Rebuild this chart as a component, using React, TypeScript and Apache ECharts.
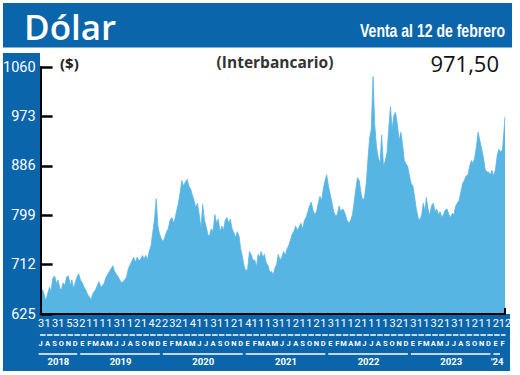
import React, { useEffect, useRef } from 'react';
import * as echarts from 'echarts';

// Monthly readings (approx. weekly points) starting July 2018
const v2018 = [
  [652, 668, 660, 648], [660, 672, 665, 688], [692, 678, 685, 670],
  [668, 680, 675, 690], [692, 675, 685, 670], [680, 690, 696, 685],
];
const v2019 = [
  [680, 672, 668, 660], [655, 650, 660, 665], [668, 675, 682, 672],
  [675, 680, 690, 695], [700, 705, 710, 700], [695, 690, 685, 680],
  [682, 686, 690, 705], [712, 718, 725, 716], [725, 718, 722, 728],
  [722, 728, 720, 735], [745, 770, 790, 828], [780, 765, 758, 752],
];
const v2020 = [
  [760, 770, 775, 790], [795, 785, 795, 810], [820, 840, 860, 850],
  [858, 862, 850, 845], [835, 825, 812, 820], [800, 775, 818, 790],
  [780, 765, 762, 775], [770, 800, 785, 792], [770, 780, 772, 790],
  [795, 785, 792, 775], [768, 760, 770, 762], [740, 725, 710, 700],
];
const v2021 = [
  [705, 735, 730, 720], [720, 708, 730, 725], [735, 725, 730, 715],
  [710, 698, 700, 694], [705, 712, 730, 720], [725, 735, 728, 740],
  [745, 755, 765, 770], [780, 772, 778, 785], [775, 790, 795, 805],
  [815, 822, 808, 800], [805, 820, 832, 825], [845, 860, 870, 850],
];
const v2022 = [
  [835, 820, 805, 798], [800, 815, 805, 810], [808, 800, 790, 785],
  [790, 800, 820, 845], [865, 860, 840, 825], [830, 855, 895, 935],
  [950, 1043, 960, 920], [900, 890, 940, 885], [895, 910, 950, 990],
  [950, 975, 980, 960], [930, 945, 925, 895], [890, 885, 870, 855],
];
const v2023 = [
  [850, 830, 810, 795], [790, 800, 820, 805], [830, 810, 798, 815],
  [820, 805, 810, 800], [805, 795, 800, 808], [810, 800, 795, 802],
  [800, 815, 820, 825], [840, 855, 860, 868], [870, 885, 895, 890],
  [900, 920, 945, 930], [915, 900, 880, 875], [875, 870, 878, 868],
];
const v2024 = [[880, 905, 915, 910], [915, 945, 971.5]];

const weekDays = [1, 9, 16, 24];
const lastMonthDays = [1, 7, 12];

// first labelled day of each month, Jul 2018 .. Feb 2024
const monthDayLabels = [
  3, 1, 3, 1, 5, 3,
  2, 1, 1, 1, 1, 3, 1, 1, 2, 1, 4, 2,
  2, 3, 2, 1, 4, 1, 1, 3, 1, 1, 2, 1,
  4, 1, 1, 1, 3, 1, 1, 2, 1, 1, 2, 1,
  3, 1, 1, 1, 2, 1, 1, 1, 1, 3, 2, 1,
  3, 1, 1, 3, 2, 1, 3, 1, 1, 2, 1, 1,
  2, 12,
];
const monthLetters = ['E', 'F', 'M', 'A', 'M', 'J', 'J', 'A', 'S', 'O', 'N', 'D'];
const yearLabels = ['2018', '2019', '2020', '2021', '2022', '2023', "'24"];
const yTicks = [625, 712, 799, 886, 973, 1060];

const BLUE = '#0b65ab';
const AREA = '#57b5e4';
const COND = "'Liberation Sans Narrow', 'Roboto', sans-serif";

function monthOf(i: number) {
  const t = 6 + i;
  return { y: 2018 + Math.floor(t / 12), m: t % 12 };
}
const ts = (y: number, m: number, d: number) => new Date(y, m, d).getTime();

const START = ts(2018, 6, 1);
const END = ts(2024, 1, 12);

const allMonths = [...v2018, ...v2019, ...v2020, ...v2021, ...v2022, ...v2023, ...v2024];
const seriesData: [number, number][] = [];
allMonths.forEach((vals, i) => {
  const { y, m } = monthOf(i);
  const days = vals.length === 4 ? weekDays : lastMonthDays;
  vals.forEach((v, k) => {
    seriesData.push([ts(y, m, days[k]), v]);
  });
});

const monthStarts = allMonths.map((_, i) => {
  const { y, m } = monthOf(i);
  return ts(y, m, 1);
});
const dayDates = monthDayLabels.map((d, i) => {
  const { y, m } = monthOf(i);
  return ts(y, m, d);
});

const yearBounds = [START, ts(2019, 0, 1), ts(2020, 0, 1), ts(2021, 0, 1), ts(2022, 0, 1), ts(2023, 0, 1), ts(2024, 0, 1), END];
const yearSpans = yearLabels.map((_, i) => [yearBounds[i], yearBounds[i + 1], 625]);

const hiddenValueX = () => ({
  type: 'value',
  gridIndex: 0,
  min: START,
  max: END,
  position: 'bottom',
  axisTick: { show: false },
  splitLine: { show: false },
});

export default function App() {
  const ref = useRef<HTMLDivElement>(null);
  useEffect(() => {
    const chart = echarts.init(ref.current!, null, { renderer: 'svg' });
    const option: any = {
      animation: false,
      grid: { left: 40, right: 15, top: 67, bottom: 61, containLabel: false },
      graphic: [
        { type: 'rect', z: -10, shape: { x: 3, y: 3, width: 509, height: 44.5 }, style: { fill: BLUE } },
        { type: 'rect', z: -10, shape: { x: 3, y: 53, width: 507, height: 318 }, style: { fill: BLUE } },
        { type: 'rect', z: -9, shape: { x: 40, y: 50, width: 472, height: 264 }, style: { fill: '#fff' } },
        {
          type: 'text', z: 10, x: 24, y: 26,
          style: { text: 'Dólar', fill: '#fff', fontFamily: "'Open Sans', sans-serif", fontWeight: 600, fontSize: 35, verticalAlign: 'middle' },
        },
        {
          type: 'text', z: 10, x: 505, y: 30, scaleX: 0.78,
          style: { text: 'Venta al 12 de febrero', fill: '#fff', fontFamily: "'Liberation Sans', sans-serif", fontWeight: 'bold', fontSize: 18, align: 'right', verticalAlign: 'middle' },
        },
        {
          type: 'text', z: 10, x: 60, y: 63,
          style: { text: '($)', fill: '#222', fontFamily: "'Open Sans', sans-serif", fontWeight: 'bold', fontSize: 15, verticalAlign: 'middle' },
        },
        {
          type: 'text', z: 10, x: 275, y: 62,
          style: { text: '(Interbancario)', fill: '#333', fontFamily: "'Open Sans', sans-serif", fontWeight: 'bold', fontSize: 15.5, align: 'center', verticalAlign: 'middle' },
        },
        {
          type: 'text', z: 10, x: 499, y: 63,
          style: { text: '971,50', fill: '#111', fontFamily: "'Open Sans', sans-serif", fontSize: 22, align: 'right', verticalAlign: 'middle' },
        },
      ],
      xAxis: [
        {
          type: 'value',
          min: START,
          max: END,
          z: 5,
          axisLine: { show: true, lineStyle: { color: '#000', width: 2 } },
          axisTick: { show: true, inside: true, length: 6, customValues: [END], lineStyle: { color: '#000', width: 2 } },
          axisLabel: { show: false },
          splitLine: { show: false },
        },
        {
          ...hiddenValueX(),
          offset: 0,
          axisLine: { show: false },
          axisLabel: {
            show: true,
            customValues: dayDates,
            formatter: (v: number) => String(new Date(v).getDate()),
            color: '#fff',
            fontFamily: COND,
            fontSize: 11,
            lineHeight: 11,
            margin: 4,
          },
        },
        {
          ...hiddenValueX(),
          offset: 21,
          axisLine: { show: true, lineStyle: { color: '#fff', width: 1.5, type: [4.5, 2.38] } },
          axisLabel: {
            show: true,
            customValues: monthStarts,
            formatter: (v: number) => monthLetters[new Date(v).getMonth()],
            margin: 4,
            color: '#fff',
            fontSize: 7.5,
            lineHeight: 9,
            fontFamily: COND,
            fontWeight: 'bold',
          },
        },
      ],
      yAxis: {
        type: 'value',
        min: 625,
        max: 1060,
        z: 5,
        axisLine: { show: true, lineStyle: { color: '#000', width: 2 } },
        axisTick: { show: true, inside: true, length: 12, customValues: yTicks, lineStyle: { color: '#000', width: 2.5 } },
        axisLabel: {
          show: true,
          customValues: yTicks,
          formatter: (v: number) => String(v),
          color: '#fff',
          fontFamily: COND,
          fontSize: 14.5,
          margin: 5,
        },
        splitLine: { show: false },
      },
      series: [
        {
          type: 'line',
          data: seriesData,
          xAxisIndex: 0,
          yAxisIndex: 0,
          showSymbol: false,
          symbol: 'none',
          lineStyle: { color: AREA, width: 0.8 },
          areaStyle: { color: AREA, opacity: 1 },
          z: 2,
        },
        {
          type: 'custom',
          xAxisIndex: 0,
          yAxisIndex: 0,
          clip: false,
          data: yearSpans,
          encode: { x: [0, 1], y: 2 },
          renderItem: (params: any, api: any) => {
            const s = api.coord([api.value(0), api.value(2)]);
            const e = api.coord([api.value(1), api.value(2)]);
            return {
              type: 'group',
              children: [
                {
                  type: 'line',
                  shape: { x1: s[0] - 2, y1: s[1] + 40, x2: e[0] - 5, y2: s[1] + 40 },
                  style: { stroke: '#fff', lineWidth: 1.5 },
                },
                {
                  type: 'text',
                  style: {
                    text: yearLabels[params.dataIndex],
                    x: (s[0] + e[0]) / 2 - 3,
                    y: s[1] + 47,
                    align: 'center',
                    verticalAlign: 'middle',
                    fill: '#fff',
                    fontFamily: COND,
                    fontWeight: 'bold',
                    fontSize: 9.5,
                  },
                },
              ],
            };
          },
          z: 6,
        },
      ],
    };
    chart.setOption(option);
    return () => chart.dispose();
  }, []);
  return (
    <div
      ref={ref}
      style={{ position: 'fixed', left: 0, top: 0, width: 520, height: 375, background: '#fff' }}
    />
  );
}
